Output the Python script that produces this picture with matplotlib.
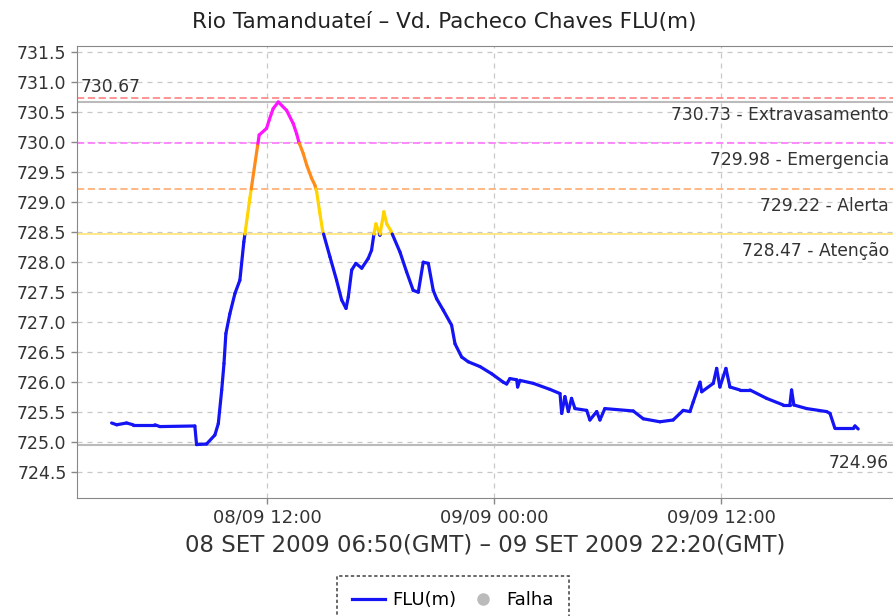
import numpy as np
import matplotlib
matplotlib.use("Agg")
import matplotlib.pyplot as plt
from matplotlib.collections import LineCollection
from matplotlib.lines import Line2D

# ---- data (hours since 08/09 00:00 local time, level in m) ----
hours = [3.79, 4.06, 4.58, 4.93, 6.08, 6.34, 8.19, 8.28, 8.81, 9.25, 9.43, 9.61,
         9.73, 9.83, 10.04, 10.31, 10.57, 10.78, 11.10, 11.51, 11.59, 11.98, 12.12,
         12.33, 12.60, 13.04, 13.39, 13.57, 13.69, 13.92, 14.10, 14.36, 14.54, 14.63,
         14.80, 14.94, 15.33, 15.68, 15.95, 16.18, 16.30, 16.48, 16.70, 17.01, 17.35,
         17.53, 17.66, 17.76, 17.97, 18.18, 18.33, 18.54, 19.03, 19.38, 19.73, 20.00,
         20.26, 20.53, 20.79, 20.97, 21.32, 21.76, 21.94, 22.29, 22.64, 23.26, 23.88,
         24.49, 24.67, 24.84, 25.20, 25.25, 25.37, 26.08, 26.96, 27.49, 27.58, 27.75,
         27.93, 28.10, 28.28, 28.90, 29.07, 29.43, 29.60, 29.86, 31.36, 31.89, 32.77,
         33.47, 34.00, 34.36, 34.53, 34.89, 34.98, 35.59, 35.77, 35.94, 36.26, 36.47,
         37.00, 37.53, 38.41, 39.29, 39.64, 39.73, 39.85, 40.53, 41.58, 41.76, 42.02,
         42.99, 43.08, 43.25]
level = [725.32, 725.29, 725.32, 725.29, 725.29, 725.26, 725.27, 724.96, 724.97, 725.12,
         725.31, 725.87, 726.31, 726.81, 727.14, 727.48, 727.70, 728.34, 729.07, 729.95,
         730.12, 730.23, 730.37, 730.56, 730.67, 730.53, 730.31, 730.14, 730.00, 729.81,
         729.62, 729.40, 729.28, 729.17, 728.81, 728.53, 728.09, 727.70, 727.37, 727.23,
         727.42, 727.87, 727.98, 727.90, 728.06, 728.20, 728.48, 728.64, 728.45, 728.84,
         728.64, 728.53, 728.17, 727.84, 727.53, 727.50, 728.00, 727.98, 727.53, 727.39,
         727.20, 726.95, 726.64, 726.42, 726.34, 726.26, 726.14, 726.00, 725.97, 726.06,
         726.04, 725.92, 726.03, 725.98, 725.88, 725.81, 725.48, 725.76, 725.51, 725.73,
         725.56, 725.53, 725.37, 725.51, 725.37, 725.56, 725.52, 725.39, 725.34, 725.37,
         725.53, 725.51, 725.67, 726.00, 725.84, 725.98, 726.23, 725.92, 726.23, 725.92,
         725.87, 725.87, 725.73, 725.62, 725.62, 725.87, 725.62, 725.56, 725.51, 725.48,
         725.23, 725.23, 725.27, 725.22]

threshold_values = [728.47, 729.22, 729.98, 730.73]
threshold_names = ["Atenção", "Alerta", "Emergencia", "Extravasamento"]
threshold_colors = ["#FFE680", "#FFB27A", "#FF80FF", "#FF8C8C"]
band_colors = ["#1414F5", "#FFD400", "#FF8C1A", "#FF14FF", "#FF0000"]
max_value = 730.67
min_value = 724.96

xtick_pos = [12, 24, 36]
xtick_labels = ["08/09 12:00", "09/09 00:00", "09/09 12:00"]
yticks = np.arange(724.5, 731.51, 0.5)

title = "Rio Tamanduateí – Vd. Pacheco Chaves FLU(m)"
xlabel = "08 SET 2009 06:50(GMT) – 09 SET 2009 22:20(GMT)"

# ---- build coloured segments, splitting at threshold crossings ----
def band(v):
    b = 0
    for th in threshold_values:
        if v > th:
            b += 1
    return b

segs, cols = [], []
for i in range(len(hours) - 1):
    t0, v0, t1, v1 = hours[i], level[i], hours[i + 1], level[i + 1]
    pts = [(t0, v0)]
    cross = []
    for th in threshold_values:
        if (v0 - th) * (v1 - th) < 0:
            f = (th - v0) / (v1 - v0)
            cross.append((t0 + f * (t1 - t0), th))
    cross.sort()
    pts += cross
    pts.append((t1, v1))
    for a, b in zip(pts[:-1], pts[1:]):
        segs.append([a, b])
        cols.append(band_colors[band((a[1] + b[1]) / 2)])

# ---- figure ----
fig = plt.figure(figsize=(8.93, 6.16), dpi=100)
ax = fig.add_axes([0.0862, 0.1916, 0.9138, 0.7334])
ax.set_xlim(1.96, 45.09)
ax.set_ylim(724.07, 731.6)

grid_kw = dict(color="#C8C8C8", linewidth=0.9, linestyle=(0, (4, 4)), zorder=0)
for y in yticks:
    ax.axhline(y, **grid_kw)
for x in xtick_pos:
    ax.axvline(x, **grid_kw)

# thresholds
for val, name, c in zip(threshold_values, threshold_names, threshold_colors):
    ls = "-" if name == "Atenção" else (0, (4, 2))
    ax.axhline(val, color=c, linewidth=1.3, linestyle=ls, zorder=1)
    ax.annotate(f"{val:.2f} - {name}", xy=(0.995, val), xycoords=("axes fraction", "data"),
                xytext=(0, -5.5), textcoords="offset points", ha="right", va="top",
                fontsize=12.3, color="#333333")

ax.axhline(max_value, color="#BBBBBB", linewidth=1.5, zorder=1)
ax.axhline(min_value, color="#BBBBBB", linewidth=1.5, zorder=1)
ax.annotate(f"{max_value:.2f}", xy=(0.005, max_value), xycoords=("axes fraction", "data"),
            xytext=(0, 4), textcoords="offset points", ha="left", va="bottom",
            fontsize=12.3, color="#333333")
ax.annotate(f"{min_value:.2f}", xy=(0.995, min_value), xycoords=("axes fraction", "data"),
            xytext=(0, -6.5), textcoords="offset points", ha="right", va="top",
            fontsize=12.3, color="#333333")

lc = LineCollection(segs, colors=cols, linewidths=2.3, zorder=3, capstyle="round")
ax.add_collection(lc)

ax.set_yticks(yticks)
ax.set_yticklabels([f"{y:.1f}" for y in yticks], fontsize=12.5, color="#333333")
ax.set_xticks(xtick_pos)
ax.set_xticklabels(xtick_labels, fontsize=13, color="#333333")
ax.tick_params(axis="both", length=4, color="#888888", width=1)
for s in ["left", "bottom", "top"]:
    ax.spines[s].set_color("#888888")
ax.spines["right"].set_visible(False)

fig.text(444 / 893, 1 - 22 / 616, title, fontsize=15.5, color="#222222",
         ha="center", va="center")
ax.set_xlabel(xlabel, fontsize=16.5, color="#333333", labelpad=5)

handles = [Line2D([0], [0], color="#1414F5", linewidth=2.3),
           Line2D([0], [0], marker="o", color="#BBBBBB", linestyle="none", markersize=8)]
leg = fig.legend(handles, ["FLU(m)", "Falha"], loc="upper center",
                 bbox_to_anchor=(453 / 893, 1 - 576 / 616), ncol=2, fontsize=13,
                 frameon=True, fancybox=False, handlelength=1.8, handletextpad=0.4,
                 columnspacing=0.6, borderpad=0.85, borderaxespad=0, edgecolor="#222222")
leg.get_frame().set_linestyle((0, (2, 1.5)))
leg.get_frame().set_linewidth(1.2)

fig.savefig("out.png", dpi=100)
